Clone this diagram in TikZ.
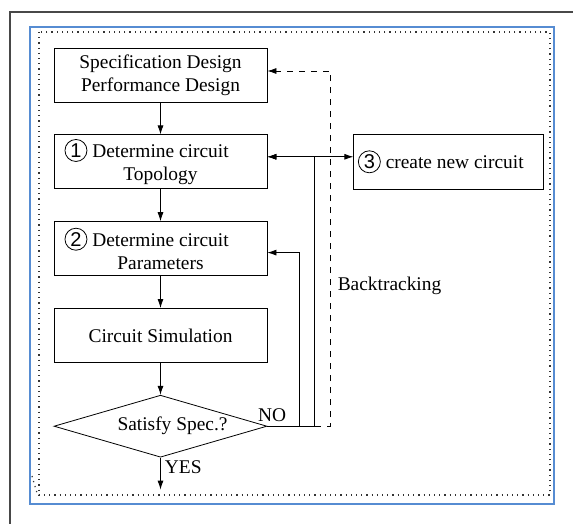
\documentclass[tikz,border=0pt]{standalone}
\usepackage{fontspec}
\setmainfont{Liberation Serif}
\setsansfont{Liberation Sans}
\usetikzlibrary{arrows.meta, calc, positioning, shapes.geometric}
\definecolor{framegray}{RGB}{72,72,72}
\definecolor{frameblue}{RGB}{86,140,210}
\newcommand\circnum[1]{\tikz[baseline=(c.base)]
    \node[circle, draw, thin, inner sep=0pt, minimum size=11pt] (c)
         {\sffamily\fontsize{10}{10}\selectfont #1};}

\begin{document}
\begin{tikzpicture}[x=0.5pt, y=-0.5pt,% 1 unit = 1 px of the sketch
         > = {Latex[length=4.5pt, width=3pt]}, % defined in "arrows.meta"
node distance = 16pt,
     font = \fontsize{9.7}{11.5}\selectfont,
box/.style = {draw, thin, minimum width=106.5pt, minimum height=27pt,
              inner sep=2pt, align=center},
test/.style = {draw, thin, diamond, aspect=3.43, minimum width=106.5pt,
               minimum height=31pt, inner sep=0pt},
tag/.style = {inner sep=2pt}
                        ]
	% page frames
	\useasboundingbox (0,0) rectangle (573,524);
	\draw[framegray, line width=1pt] (10,524) -- (10,12) -- (573,12);
	\draw[frameblue, line width=1pt] (30,27) rectangle (554,504);
	\draw[dotted, line width=0.6pt, black!80] (39,32) rectangle (550,495);
	\draw[dotted, line width=0.6pt, black!80] (32,476) -- (37,493);

	% flow chart
	\node[box] (spec) at (160.5,75) {Specification Design\\Performance Design};
	\node[box, below=of spec] (topo)
	     {\makebox[0pt][r]{\circnum{1}\hspace{2.5pt}}Determine circuit\\Topology};
	\node[box, below=of topo] (param)
	     {\makebox[0pt][r]{\circnum{2}\hspace{2.5pt}}Determine circuit\\Parameters};
	\node[box, below=of param] (sim) {Circuit Simulation};
	\node[test, below=of sim] (satisfy) {\hspace*{12pt}Satisfy Spec.?};
	\node[box, minimum width=95pt, minimum height=27.5pt, right=43pt of topo] (newc)
	     {\circnum{3}\hspace{2.5pt}create new circuit\hspace*{8pt}};

	\draw[->] (spec) -- (topo);
	\draw[->] (topo) -- (param);
	\draw[->] (param) -- (sim);
	\draw[->] (sim) -- (satisfy);

	\coordinate (yes) at ([yshift=-16pt]satisfy.south);
	\draw[->] (satisfy) -- (yes) node[pos=0.3, right, tag] {YES};

	% backtracking paths
	\coordinate (nobranch) at ([xshift=24pt]satisfy.east);
	\draw (satisfy.east) -- (nobranch)
	      node[pos=0.1, above, tag] {NO};
	\draw[<->] ([yshift=2.5pt]topo.east) -- ([yshift=2.5pt]topo.east -| newc.west);
	\draw[->] ([xshift=23.5pt]satisfy.east) |- ([yshift=2.5pt]topo.east);
	\draw[->] ([xshift=16pt]satisfy.east) |- ([yshift=-2pt]param.east);
	\draw[->, dashed] (nobranch) -- ([xshift=31.5pt]satisfy.east)
	      -- ([xshift=31.5pt, yshift=2pt]satisfy.east |- spec.east)
	      node[pos=0.395, right, inner sep=3.5pt] {Backtracking}
	      -- ([yshift=2pt]spec.east);
\end{tikzpicture}
\end{document}
